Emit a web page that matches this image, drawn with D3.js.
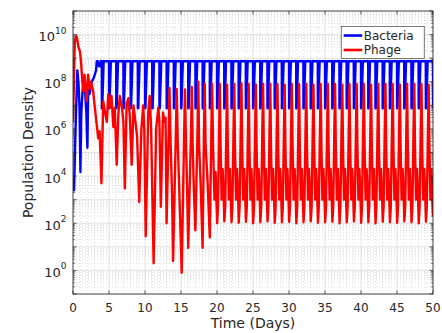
<!DOCTYPE html>
<html>
<head>
<meta charset="utf-8">
<script src="https://cdn.jsdelivr.net/npm/d3@7"></script>
<style>
  body { margin: 0; background: #fff; }
  svg { font-family: "DejaVu Sans", sans-serif; }
</style>
</head>
<body>
<div id="chart"></div>
<script>
// tick labels
const xTicks = [0, 5, 10, 15, 20, 25, 30, 35, 40, 45, 50]
const yTickExponents = [0, 2, 4, 6, 8, 10]
const seriesNames = ["Bacteria", "Phage"]
const seriesColors = ["#0000ff", "#ff0000"]

// [time in days, population density]
const bacteria = [
  [0.00, 3e3], [0.15, 2.5e3], [0.35, 1e6], [0.6, 3e8], [0.75, 1e8], [0.9, 1e7], [1.03, 1.5e4],
  [1.15, 5e6], [1.35, 5e7], [1.55, 1e8], [1.7, 3e7], [1.85, 5e6], [2.0, 1.6e5], [2.12, 8e7],
  [2.3, 3e7], [2.6, 1e8], [2.9, 1.5e8], [3.2, 3e8], [3.3, 7.4e8], [3.45, 7.4e8], [3.6, 4.5e8],
  [3.75, 4.5e8], [3.85, 7.4e8],
  [4, 7.4e8], [4.01, 7.5e6], [4.06, 7.5e6], [4.26, 7.4e8], [5, 7.4e8], [5.01, 7.5e6], [5.06, 7.5e6], [5.26, 7.4e8],
  [6, 7.4e8], [6.01, 7.5e6], [6.06, 7.5e6], [6.26, 7.4e8], [7, 7.4e8], [7.01, 7.5e6], [7.06, 7.5e6], [7.26, 7.4e8],
  [8, 7.4e8], [8.01, 7.5e6], [8.06, 7.5e6], [8.26, 7.4e8], [9, 7.4e8], [9.01, 7.5e6], [9.06, 7.5e6], [9.26, 7.4e8],
  [10, 7.4e8], [10.01, 7.5e6], [10.06, 7.5e6], [10.26, 7.4e8], [11, 7.4e8], [11.01, 7.5e6], [11.06, 7.5e6], [11.26, 7.4e8],
  [12, 7.4e8], [12.01, 7.5e6], [12.06, 7.5e6], [12.26, 7.4e8], [13, 7.4e8], [13.01, 7.5e6], [13.06, 7.5e6], [13.26, 7.4e8],
  [14, 7.4e8], [14.01, 7.5e6], [14.06, 7.5e6], [14.26, 7.4e8], [15, 7.4e8], [15.01, 7.5e6], [15.06, 7.5e6], [15.26, 7.4e8],
  [16, 7.4e8], [16.01, 7.5e6], [16.06, 7.5e6], [16.26, 7.4e8], [17, 7.4e8], [17.01, 7.5e6], [17.06, 7.5e6], [17.26, 7.4e8],
  [18, 7.4e8], [18.01, 7.5e6], [18.06, 7.5e6], [18.26, 7.4e8], [19, 7.4e8], [19.01, 7.5e6], [19.06, 7.5e6], [19.26, 7.4e8],
  [20, 7.4e8], [20.01, 7.5e6], [20.06, 7.5e6], [20.26, 7.4e8], [21, 7.4e8], [21.01, 7.5e6], [21.06, 7.5e6], [21.26, 7.4e8],
  [22, 7.4e8], [22.01, 7.5e6], [22.06, 7.5e6], [22.26, 7.4e8], [23, 7.4e8], [23.01, 7.5e6], [23.06, 7.5e6], [23.26, 7.4e8],
  [24, 7.4e8], [24.01, 7.5e6], [24.06, 7.5e6], [24.26, 7.4e8], [25, 7.4e8], [25.01, 7.5e6], [25.06, 7.5e6], [25.26, 7.4e8],
  [26, 7.4e8], [26.01, 7.5e6], [26.06, 7.5e6], [26.26, 7.4e8], [27, 7.4e8], [27.01, 7.5e6], [27.06, 7.5e6], [27.26, 7.4e8],
  [28, 7.4e8], [28.01, 7.5e6], [28.06, 7.5e6], [28.26, 7.4e8], [29, 7.4e8], [29.01, 7.5e6], [29.06, 7.5e6], [29.26, 7.4e8],
  [30, 7.4e8], [30.01, 7.5e6], [30.06, 7.5e6], [30.26, 7.4e8], [31, 7.4e8], [31.01, 7.5e6], [31.06, 7.5e6], [31.26, 7.4e8],
  [32, 7.4e8], [32.01, 7.5e6], [32.06, 7.5e6], [32.26, 7.4e8], [33, 7.4e8], [33.01, 7.5e6], [33.06, 7.5e6], [33.26, 7.4e8],
  [34, 7.4e8], [34.01, 7.5e6], [34.06, 7.5e6], [34.26, 7.4e8], [35, 7.4e8], [35.01, 7.5e6], [35.06, 7.5e6], [35.26, 7.4e8],
  [36, 7.4e8], [36.01, 7.5e6], [36.06, 7.5e6], [36.26, 7.4e8], [37, 7.4e8], [37.01, 7.5e6], [37.06, 7.5e6], [37.26, 7.4e8],
  [38, 7.4e8], [38.01, 7.5e6], [38.06, 7.5e6], [38.26, 7.4e8], [39, 7.4e8], [39.01, 7.5e6], [39.06, 7.5e6], [39.26, 7.4e8],
  [40, 7.4e8], [40.01, 7.5e6], [40.06, 7.5e6], [40.26, 7.4e8], [41, 7.4e8], [41.01, 7.5e6], [41.06, 7.5e6], [41.26, 7.4e8],
  [42, 7.4e8], [42.01, 7.5e6], [42.06, 7.5e6], [42.26, 7.4e8], [43, 7.4e8], [43.01, 7.5e6], [43.06, 7.5e6], [43.26, 7.4e8],
  [44, 7.4e8], [44.01, 7.5e6], [44.06, 7.5e6], [44.26, 7.4e8], [45, 7.4e8], [45.01, 7.5e6], [45.06, 7.5e6], [45.26, 7.4e8],
  [46, 7.4e8], [46.01, 7.5e6], [46.06, 7.5e6], [46.26, 7.4e8], [47, 7.4e8], [47.01, 7.5e6], [47.06, 7.5e6], [47.26, 7.4e8],
  [48, 7.4e8], [48.01, 7.5e6], [48.06, 7.5e6], [48.26, 7.4e8], [49, 7.4e8], [49.01, 7.5e6], [49.06, 7.5e6], [49.26, 7.4e8],
  [50, 7.4e8], [50.01, 7.5e6]
]

const phage = [
  [0.00, 2e6], [0.25, 5e9], [0.45, 9e9], [0.6, 6e9], [0.75, 3e9], [0.95, 2e9], [1.1, 8e8], [1.3, 1e8],
  [1.43, 4e7], [1.6, 2e8], [1.8, 3e7], [1.9, 1.5e7], [2.1, 2e8], [2.3, 5e7], [2.5, 1e8], [2.8, 4e7],
  [3.0, 1e7], [3.3, 1.5e6], [3.5, 4e5], [3.7, 8e5], [3.95, 5e3],
  [4.2, 1.5e7], [4.45, 5e6], [4.7, 2e6], [4.9, 3e7], [5.15, 8e6], [5.35, 2.5e7], [5.6, 1.2e6], [5.8, 8e6], [6.07, 3e4],
  [6.3, 4e6], [6.5, 2.5e7], [6.8, 8e6], [7.0, 2e6], [7.2, 3e3], [7.45, 1.2e7], [7.7, 2e7], [7.9, 3e6], [8.15, 3e4],
  [8.4, 1e7], [8.6, 3e6], [8.9, 5e5], [9.2, 8e2], [9.5, 1e6], [9.75, 1e7], [9.9, 1e6], [10.1, 28],
  [10.45, 5e6], [10.65, 2.5e7], [10.85, 1e6], [11.2, 2], [11.55, 1e6], [11.85, 8e6], [12.0, 2e6], [12.2, 5e2],
  [12.5, 5e6], [12.7, 2e6], [12.85, 3e6], [13.0, 1e2], [13.3, 1e6], [13.4, 5.5e7], [13.55, 3e5], [13.75, 2e3],
  [13.9, 2.5], [14.3, 1e6], [14.4, 5e7], [14.55, 3e5], [14.8, 1e3], [15.1, 0.8], [15.45, 1e6], [15.55, 4.7e7],
  [15.7, 2e5], [15.85, 3e3], [16.0, 9], [16.4, 1e6], [16.5, 6e7], [16.62, 2e5], [16.8, 2e3], [17.0, 50],
  [17.3, 1e6], [17.4, 1e8], [17.52, 2e5], [17.75, 3e3], [18.0, 9], [18.2, 1e6], [18.3, 8e7], [18.42, 2e5],
  [18.7, 5e3], [19.0, 25], [19.22, 1e6], [19.32, 8e7], [19.45, 2e5], [19.65, 1e3], [19.8, 1.5e4], [19.92, 1e3],
  [20.02, 100], [20.14, 5e2], [20.3, 1e6], [20.4, 8e7], [20.5, 2e5], [20.64, 1e3], [20.78, 2e4], [20.92, 1.5e3],
  [21.02, 120], [21.14, 5e2], [21.3, 1e6], [21.4, 7.5e7], [21.5, 2e5], [21.64, 1e3], [21.78, 2e4], [21.92, 1.5e3],
  [22.02, 110], [22.14, 5e2], [22.3, 1e6], [22.4, 8e7], [22.5, 2e5], [22.64, 1e3], [22.78, 2e4], [22.92, 1.5e3],
  [23.02, 105], [23.14, 5e2], [23.3, 1e6], [23.4, 8.5e7], [23.5, 2e5], [23.64, 1e3], [23.78, 2e4], [23.92, 1.5e3],
  [24.02, 115], [24.14, 5e2], [24.3, 1e6], [24.4, 8e7], [24.5, 2e5], [24.64, 1e3], [24.78, 2e4], [24.92, 1.5e3],
  [25.02, 100], [25.14, 5e2], [25.3, 1e6], [25.4, 7.5e7], [25.5, 2e5], [25.64, 1e3], [25.78, 2e4], [25.92, 1.5e3],
  [26.02, 110], [26.14, 5e2], [26.3, 1e6], [26.4, 8e7], [26.5, 2e5], [26.64, 1e3], [26.78, 2e4], [26.92, 1.5e3],
  [27.02, 120], [27.14, 5e2], [27.3, 1e6], [27.4, 8e7], [27.5, 2e5], [27.64, 1e3], [27.78, 2e4], [27.92, 1.5e3],
  [28.02, 105], [28.14, 5e2], [28.3, 1e6], [28.4, 8e7], [28.5, 2e5], [28.64, 1e3], [28.78, 2e4], [28.92, 1.5e3],
  [29.02, 110], [29.14, 5e2], [29.3, 1e6], [29.4, 7.5e7], [29.5, 2e5], [29.64, 1e3], [29.78, 2e4], [29.92, 1.5e3],
  [30.02, 115], [30.14, 5e2], [30.3, 1e6], [30.4, 8e7], [30.5, 2e5], [30.64, 1e3], [30.78, 2e4], [30.92, 1.5e3],
  [31.02, 100], [31.14, 5e2], [31.3, 1e6], [31.4, 8e7], [31.5, 2e5], [31.64, 1e3], [31.78, 2e4], [31.92, 1.5e3],
  [32.02, 110], [32.14, 5e2], [32.3, 1e6], [32.4, 8e7], [32.5, 2e5], [32.64, 1e3], [32.78, 2e4], [32.92, 1.5e3],
  [33.02, 120], [33.14, 5e2], [33.3, 1e6], [33.4, 7.5e7], [33.5, 2e5], [33.64, 1e3], [33.78, 2e4], [33.92, 1.5e3],
  [34.02, 105], [34.14, 5e2], [34.3, 1e6], [34.4, 8e7], [34.5, 2e5], [34.64, 1e3], [34.78, 2e4], [34.92, 1.5e3],
  [35.02, 110], [35.14, 5e2], [35.3, 1e6], [35.4, 8e7], [35.5, 2e5], [35.64, 1e3], [35.78, 2e4], [35.92, 1.5e3],
  [36.02, 115], [36.14, 5e2], [36.3, 1e6], [36.4, 8e7], [36.5, 2e5], [36.64, 1e3], [36.78, 2e4], [36.92, 1.5e3],
  [37.02, 100], [37.14, 5e2], [37.3, 1e6], [37.4, 7.5e7], [37.5, 2e5], [37.64, 1e3], [37.78, 2e4], [37.92, 1.5e3],
  [38.02, 110], [38.14, 5e2], [38.3, 1e6], [38.4, 8e7], [38.5, 2e5], [38.64, 1e3], [38.78, 2e4], [38.92, 1.5e3],
  [39.02, 120], [39.14, 5e2], [39.3, 1e6], [39.4, 8e7], [39.5, 2e5], [39.64, 1e3], [39.78, 2e4], [39.92, 1.5e3],
  [40.02, 105], [40.14, 5e2], [40.3, 1e6], [40.4, 8e7], [40.5, 2e5], [40.64, 1e3], [40.78, 2e4], [40.92, 1.5e3],
  [41.02, 110], [41.14, 5e2], [41.3, 1e6], [41.4, 7.5e7], [41.5, 2e5], [41.64, 1e3], [41.78, 2e4], [41.92, 1.5e3],
  [42.02, 100], [42.14, 5e2], [42.3, 1e6], [42.4, 8e7], [42.5, 2e5], [42.64, 1e3], [42.78, 2e4], [42.92, 1.5e3],
  [43.02, 115], [43.14, 5e2], [43.3, 1e6], [43.4, 8e7], [43.5, 2e5], [43.64, 1e3], [43.78, 2e4], [43.92, 1.5e3],
  [44.02, 110], [44.14, 5e2], [44.3, 1e6], [44.4, 8e7], [44.5, 2e5], [44.64, 1e3], [44.78, 2e4], [44.92, 1.5e3],
  [45.02, 105], [45.14, 5e2], [45.3, 1e6], [45.4, 7.5e7], [45.5, 2e5], [45.64, 1e3], [45.78, 2e4], [45.92, 1.5e3],
  [46.02, 120], [46.14, 5e2], [46.3, 1e6], [46.4, 8e7], [46.5, 2e5], [46.64, 1e3], [46.78, 2e4], [46.92, 1.5e3],
  [47.02, 110], [47.14, 5e2], [47.3, 1e6], [47.4, 8e7], [47.5, 2e5], [47.64, 1e3], [47.78, 2e4], [47.92, 1.5e3],
  [48.02, 100], [48.14, 5e2], [48.3, 1e6], [48.4, 8e7], [48.5, 2e5], [48.64, 1e3], [48.78, 2e4], [48.92, 1.5e3],
  [49.02, 115], [49.14, 5e2], [49.3, 1e6], [49.4, 7.5e7], [49.5, 2e5], [49.64, 1e3], [49.78, 2e4], [49.92, 1.5e3],
  [50.0, 2e2]
]

function drawChart() {

  let dimensions = {
    width: 442,
    height: 333,
    margin: { top: 11, right: 9, bottom: 39, left: 73 },
  }
  dimensions.boundedWidth = dimensions.width - dimensions.margin.left - dimensions.margin.right
  dimensions.boundedHeight = dimensions.height - dimensions.margin.top - dimensions.margin.bottom

  const axisColor = "#262626"

  const wrapper = d3.select("#chart")
    .append("svg")
      .attr("width", dimensions.width)
      .attr("height", dimensions.height)

  const bounds = wrapper.append("g")
    .attr("transform", `translate(${dimensions.margin.left},${dimensions.margin.top})`)

  bounds.append("defs").append("clipPath")
      .attr("id", "plotClip")
    .append("rect")
      .attr("width", dimensions.boundedWidth)
      .attr("height", dimensions.boundedHeight)

  // scales
  const xScale = d3.scaleLinear()
    .domain([0, 50])
    .range([0, dimensions.boundedWidth])

  const yScale = d3.scaleLog()
    .domain([1e-1, 1e11])
    .range([dimensions.boundedHeight, 0])

  // grid
  const grid = bounds.append("g")
  const minorX = d3.range(0, 51).filter(d => d % 5 !== 0)
  grid.selectAll(".minorX").data(minorX).join("line")
      .attr("x1", d => xScale(d)).attr("x2", d => xScale(d))
      .attr("y1", 0).attr("y2", dimensions.boundedHeight)
      .attr("stroke", "#c8c8c8").attr("stroke-width", 0.6)
      .attr("stroke-dasharray", "1,2")
  const minorY = []
  for (let e = -1; e < 11; e++) for (let m = 2; m < 10; m++) minorY.push(m * 10 ** e)
  grid.selectAll(".minorY").data(minorY).join("line")
      .attr("x1", 0).attr("x2", dimensions.boundedWidth)
      .attr("y1", d => yScale(d)).attr("y2", d => yScale(d))
      .attr("stroke", "#c8c8c8").attr("stroke-width", 0.6)
      .attr("stroke-dasharray", "1,2")
  grid.selectAll(".majorX").data(xTicks).join("line")
      .attr("x1", d => xScale(d)).attr("x2", d => xScale(d))
      .attr("y1", 0).attr("y2", dimensions.boundedHeight)
      .attr("stroke", "#dcdcdc").attr("stroke-width", 0.8)
  const decades = d3.range(-1, 12).map(e => 10 ** e)
  grid.selectAll(".majorY").data(decades).join("line")
      .attr("x1", 0).attr("x2", dimensions.boundedWidth)
      .attr("y1", d => yScale(d)).attr("y2", d => yScale(d))
      .attr("stroke", "#dcdcdc").attr("stroke-width", 0.8)

  // data
  const lineGenerator = d3.line()
    .x(d => xScale(d[0]))
    .y(d => yScale(d[1]))

  const plot = bounds.append("g").attr("clip-path", "url(#plotClip)")
  ;[bacteria, phage].forEach((series, i) => {
    plot.append("path")
        .attr("d", lineGenerator(series))
        .attr("fill", "none")
        .attr("stroke", seriesColors[i])
        .attr("stroke-width", 2.4)
        .attr("stroke-linejoin", "round")
  })

  // axes box and ticks
  const ticks = bounds.append("g").attr("stroke", axisColor).attr("stroke-width", 0.7)
  xTicks.forEach(d => {
    ticks.append("line").attr("x1", xScale(d)).attr("x2", xScale(d))
      .attr("y1", dimensions.boundedHeight).attr("y2", dimensions.boundedHeight - 3.6)
    ticks.append("line").attr("x1", xScale(d)).attr("x2", xScale(d))
      .attr("y1", 0).attr("y2", 3.6)
  })
  decades.forEach(d => {
    ticks.append("line").attr("x1", 0).attr("x2", 3.6).attr("y1", yScale(d)).attr("y2", yScale(d))
    ticks.append("line").attr("x1", dimensions.boundedWidth).attr("x2", dimensions.boundedWidth - 3.6)
      .attr("y1", yScale(d)).attr("y2", yScale(d))
  })
  minorY.forEach(d => {
    ticks.append("line").attr("x1", 0).attr("x2", 1.8).attr("y1", yScale(d)).attr("y2", yScale(d))
    ticks.append("line").attr("x1", dimensions.boundedWidth).attr("x2", dimensions.boundedWidth - 1.8)
      .attr("y1", yScale(d)).attr("y2", yScale(d))
  })
  bounds.append("rect")
      .attr("width", dimensions.boundedWidth)
      .attr("height", dimensions.boundedHeight)
      .attr("fill", "none")
      .attr("stroke", axisColor)
      .attr("stroke-width", 0.8)

  // tick labels
  bounds.append("g").selectAll("text").data(xTicks).join("text")
      .attr("x", d => xScale(d))
      .attr("y", dimensions.boundedHeight + 17.5)
      .attr("text-anchor", "middle")
      .attr("font-size", 12)
      .attr("fill", axisColor)
      .text(d => d)

  bounds.append("g").selectAll("text").data(yTickExponents).join("text")
      .attr("x", -6.5)
      .attr("y", d => yScale(10 ** d) + 6.5)
      .attr("text-anchor", "end")
      .attr("font-size", 13)
      .attr("fill", axisColor)
      .each(function(d) {
        const t = d3.select(this)
        t.append("tspan").text("10")
        t.append("tspan").attr("dy", -7.5).attr("font-size", 9).text(d)
      })

  // axis titles
  bounds.append("text")
      .attr("x", dimensions.boundedWidth / 2)
      .attr("y", dimensions.boundedHeight + 34)
      .attr("text-anchor", "middle")
      .attr("font-size", 14)
      .attr("fill", axisColor)
      .text("Time (Days)")

  bounds.append("text")
      .attr("transform", `translate(${-40},${dimensions.boundedHeight / 2}) rotate(-90)`)
      .attr("text-anchor", "middle")
      .attr("font-size", 14)
      .attr("fill", axisColor)
      .text("Population Density")

  // legend
  const legend = bounds.append("g")
    .attr("transform", `translate(${xScale(37.25)},${yScale(2.2e10)})`)
  legend.append("rect")
      .attr("width", 83)
      .attr("height", 32)
      .attr("fill", "#fff")
      .attr("stroke", axisColor)
      .attr("stroke-width", 0.6)
  seriesNames.forEach((name, i) => {
    legend.append("line")
        .attr("x1", 2.5).attr("x2", 21)
        .attr("y1", 9 + i * 14.5).attr("y2", 9 + i * 14.5)
        .attr("stroke", seriesColors[i])
        .attr("stroke-width", 2.6)
    legend.append("text")
        .attr("x", 22.5)
        .attr("y", 13.3 + i * 14.5)
        .attr("font-size", 12)
        .attr("fill", axisColor)
        .text(name)
  })
}

drawChart()
</script>
</body>
</html>
